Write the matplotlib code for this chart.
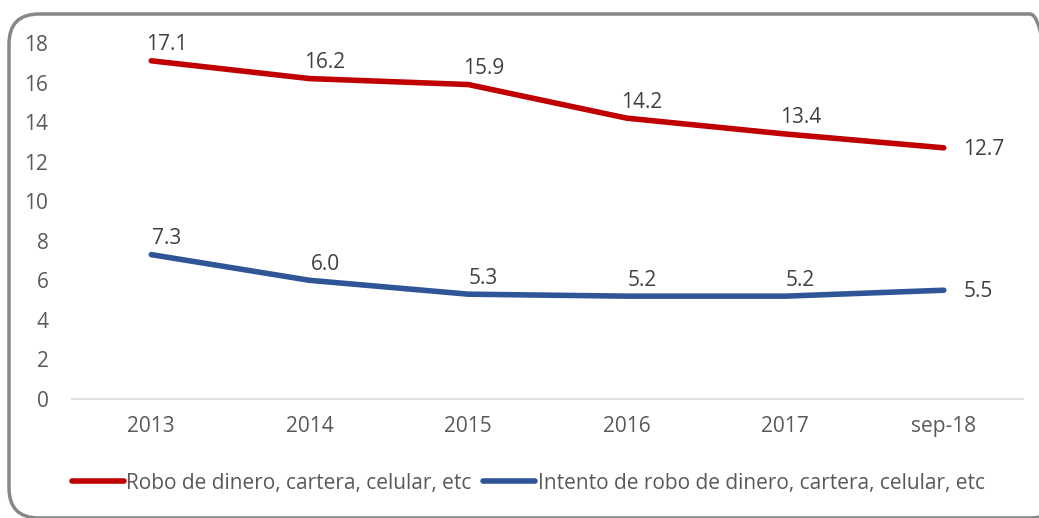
import matplotlib.pyplot as plt
from matplotlib.patches import FancyBboxPatch

# -- Data ----------------------------------------------------------------------

years = ["2013", "2014", "2015", "2016", "2017", "sep-18"]
robo = [17.1, 16.2, 15.9, 14.2, 13.4, 12.7]
intento = [7.3, 6.0, 5.3, 5.2, 5.2, 5.5]
robo_label = "Robo de dinero, cartera, celular, etc"
intento_label = "Intento de robo de dinero, cartera, celular, etc"

RED = "#C00000"
BLUE = "#2F5597"
TXT = "#595959"
FS = 15

plt.rcParams["font.family"] = ["Open Sans", "DejaVu Sans"]

fig = plt.figure(figsize=(10.39, 5.18), dpi=100)
W, H = 1039, 518

# rounded chart border (cut off at the right like the source), in inches
border = FancyBboxPatch((0.09, 0.0), 10.51, 5.18 - 0.14,
                        boxstyle="round,pad=0,rounding_size=0.3",
                        transform=fig.dpi_scale_trans, fill=False,
                        edgecolor="#878787", linewidth=2.5)
fig.patches.append(border)

ax = fig.add_axes([72 / W, 1 - 399 / H, (1023 - 72) / W, (399 - 43) / H])
x = list(range(len(years)))
ax.plot(x, robo, color=RED, linewidth=4, solid_capstyle="round", label=robo_label)
ax.plot(x, intento, color=BLUE, linewidth=4, solid_capstyle="round", label=intento_label)

for series in (robo, intento):
    for i, v in enumerate(series):
        if i < len(series) - 1:
            ax.annotate(f"{v:.1f}", (i, v), xytext=(11, 4), textcoords="offset points",
                        ha="center", va="bottom", fontsize=FS, color="#404040")
        else:
            ax.annotate(f"{v:.1f}", (i, v), xytext=(14, -1), textcoords="offset points",
                        ha="left", va="center", fontsize=FS, color="#404040")

ax.set_xlim(-0.5, len(years) - 0.5)
ax.set_ylim(0, 18)
ax.set_yticks(range(0, 19, 2))
ax.set_xticks(x)
ax.set_xticklabels(years)
ax.tick_params(axis="both", length=0, labelsize=FS, labelcolor=TXT)
ax.tick_params(axis="x", pad=12)
ax.tick_params(axis="y", pad=17)
for s in ("top", "right", "left"):
    ax.spines[s].set_visible(False)
ax.spines["bottom"].set_color("#D9D9D9")
ax.spines["bottom"].set_linewidth(1.2)
ax.patch.set_alpha(0)

fig.legend(loc="lower left", bbox_to_anchor=(64 / W, 16 / H), ncol=2, frameon=False,
           fontsize=FS, labelcolor=TXT, handlelength=2.5, handletextpad=0.1,
           columnspacing=0.55, borderaxespad=0)

fig.savefig("out.png", dpi=100)
